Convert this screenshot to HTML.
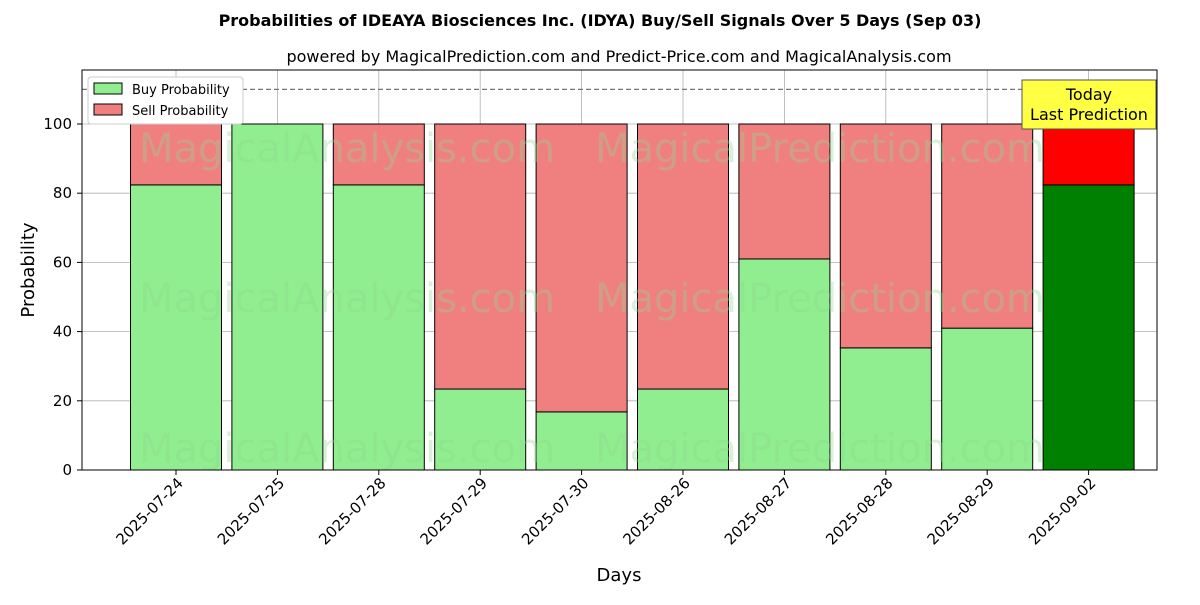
<!DOCTYPE html>
<html><head><meta charset="utf-8"><style>
body{margin:0;background:#fff;}
svg{font-family:"DejaVu Sans","Liberation Sans",sans-serif;}
</style></head><body>
<svg id="chart" width="1200" height="600" viewBox="0 0 1200 600">
<text x="600" y="26" text-anchor="middle" font-size="16" font-weight="bold">Probabilities of IDEAYA Biosciences Inc. (IDYA) Buy/Sell Signals Over 5 Days (Sep 03)</text>
<text x="619" y="62" text-anchor="middle" font-size="16">powered by MagicalPrediction.com and Predict-Price.com and MagicalAnalysis.com</text>
<g id="grid"></g>
<g id="bars"></g>
<g id="wm" font-size="40" fill="#90d890" fill-opacity="0.35">
<text x="347" y="162" text-anchor="middle">MagicalAnalysis.com</text>
<text x="820" y="162" text-anchor="middle">MagicalPrediction.com</text>
<text x="347" y="312" text-anchor="middle">MagicalAnalysis.com</text>
<text x="820" y="312" text-anchor="middle">MagicalPrediction.com</text>
<text x="347" y="462" text-anchor="middle">MagicalAnalysis.com</text>
<text x="820" y="462" text-anchor="middle">MagicalPrediction.com</text>
</g>
<line x1="82" y1="89.4" x2="1157" y2="89.4" stroke="#777" stroke-dasharray="5,3" stroke-width="1.2"/>
<rect x="82" y="70" width="1075" height="400" fill="none" stroke="#000" stroke-width="1"/>
<g id="axes"></g>
<text x="34" y="270" text-anchor="middle" font-size="18" transform="rotate(-90 34 270)">Probability</text>
<text x="619" y="581" text-anchor="middle" font-size="18">Days</text>
<g>
<rect x="88" y="77" width="155" height="47" fill="#fff" stroke="#ccc" rx="3"/>
<rect x="94" y="83" width="28" height="11" fill="#90ee90" stroke="#000"/>
<text x="132" y="94" font-size="13">Buy Probability</text>
<rect x="94" y="104" width="28" height="11" fill="#f08080" stroke="#000"/>
<text x="132" y="115" font-size="13">Sell Probability</text>
</g>
<g>
<rect x="1022" y="80" width="134" height="49" fill="#ffff44" stroke="#555"/>
<text x="1089" y="100" text-anchor="middle" font-size="16">Today</text>
<text x="1089" y="120" text-anchor="middle" font-size="16">Last Prediction</text>
</g>
</svg>
<script>
const categories=["2025-07-24","2025-07-25","2025-07-28","2025-07-29","2025-07-30","2025-08-26","2025-08-27","2025-08-28","2025-08-29","2025-09-02"];
const buyValues=[82.4,100,82.4,23.4,16.8,23.4,61,35.3,41,82.4];
const sellValues=buyValues.map(v=>100-v);
const yTicks=[0,20,40,60,80,100];
const NS="http://www.w3.org/2000/svg";
const y=v=>470-v*3.46;
const x=i=>176+101.4*i;
const bw=91;
function mk(tag,attrs,parent){const e=document.createElementNS(NS,tag);for(const k in attrs)e.setAttribute(k,attrs[k]);parent.appendChild(e);return e;}
const grid=document.getElementById('grid'),bars=document.getElementById('bars'),axes=document.getElementById('axes');
yTicks.forEach(t=>{
 const g=mk('line',{x1:82,x2:1157,y1:y(t),y2:y(t),stroke:'#b0b0b0','stroke-width':0.8},grid);
 
 
 mk('line',{x1:77,x2:82,y1:y(t),y2:y(t),stroke:'#000'},axes);
 const tx=mk('text',{x:72,y:y(t)+5,'text-anchor':'end','font-size':15},axes);
 tx.textContent=t;
 
 
});
categories.forEach((c,i)=>{
 const gl=mk('line',{x1:x(i),x2:x(i),y1:70,y2:470,stroke:'#b0b0b0','stroke-width':0.8},grid);
 
 
 const last=i===categories.length-1;
 const b=mk('rect',{x:x(i)-bw/2,y:y(buyValues[i]),width:bw,height:y(0)-y(buyValues[i]),fill:last?'#008000':'#90ee90',stroke:'#000','stroke-width':1},bars);
 
 
 const s=mk('rect',{x:x(i)-bw/2,y:y(100),width:bw,height:y(buyValues[i])-y(100),fill:last?'#ff0000':'#f08080',stroke:'#000','stroke-width':1},bars);
 
 
 mk('line',{x1:x(i),x2:x(i),y1:470,y2:475,stroke:'#000'},axes);
 const tx=mk('text',{x:x(i)+8,y:484,'text-anchor':'end','font-size':15,transform:`rotate(-45 ${x(i)+8} 484)`},axes);
 tx.textContent=c;
 
 
});
</script>
</body></html>
